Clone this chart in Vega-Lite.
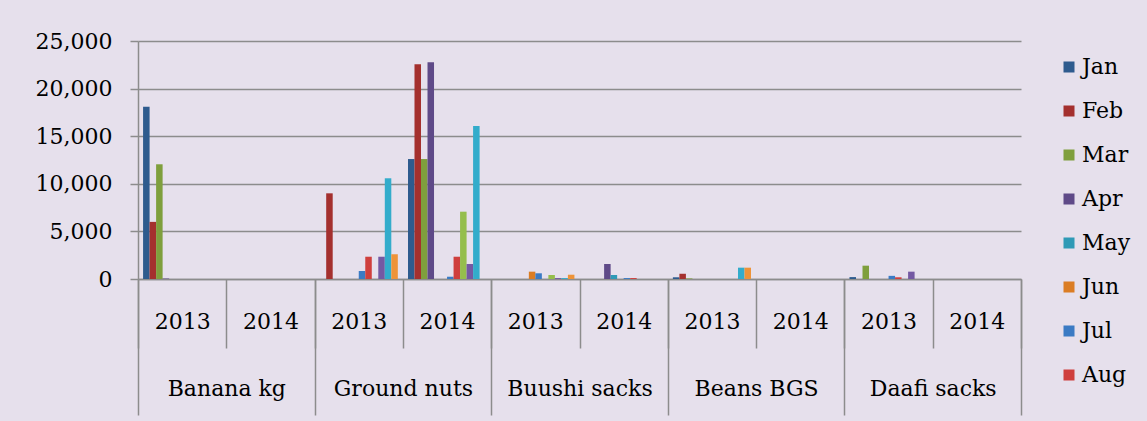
{
  "$schema": "https://vega.github.io/schema/vega-lite/v6.json",
  "width": 883,
  "height": 238,
  "autosize": {"type": "none"},
  "padding": {"left": 138, "top": 41, "right": 126, "bottom": 142},
  "background": "#E6E0EC",
  "config": {
    "view": {"stroke": null, "fill": "#E6E0EC"},
    "font": "DejaVu Serif",
    "axis": {"labelFont": "DejaVu Serif", "labelColor": "#000000", "labelFontSize": 22},
    "legend": {"labelFont": "DejaVu Serif"}
  },
  "layer": [
    {
      "data": {
        "values": [
          {"slot": "Banana kg|2013", "month": "Jan", "value": 18100},
          {"slot": "Banana kg|2013", "month": "Feb", "value": 6000},
          {"slot": "Banana kg|2013", "month": "Mar", "value": 12050},
          {"slot": "Banana kg|2013", "month": "Apr", "value": 50},
          {"slot": "Ground nuts|2013", "month": "Feb", "value": 9000},
          {"slot": "Ground nuts|2013", "month": "Jul", "value": 840},
          {"slot": "Ground nuts|2013", "month": "Aug", "value": 2340},
          {"slot": "Ground nuts|2013", "month": "Oct", "value": 2340},
          {"slot": "Ground nuts|2013", "month": "Nov", "value": 10580},
          {"slot": "Ground nuts|2013", "month": "Dec", "value": 2590},
          {"slot": "Ground nuts|2014", "month": "Jan", "value": 12600},
          {"slot": "Ground nuts|2014", "month": "Feb", "value": 22550},
          {"slot": "Ground nuts|2014", "month": "Mar", "value": 12600},
          {"slot": "Ground nuts|2014", "month": "Apr", "value": 22760},
          {"slot": "Ground nuts|2014", "month": "Jul", "value": 240},
          {"slot": "Ground nuts|2014", "month": "Aug", "value": 2340},
          {"slot": "Ground nuts|2014", "month": "Sep", "value": 7070},
          {"slot": "Ground nuts|2014", "month": "Oct", "value": 1575},
          {"slot": "Ground nuts|2014", "month": "Nov", "value": 16070},
          {"slot": "Buushi sacks|2013", "month": "Jun", "value": 770},
          {"slot": "Buushi sacks|2013", "month": "Jul", "value": 600},
          {"slot": "Buushi sacks|2013", "month": "Sep", "value": 420},
          {"slot": "Buushi sacks|2013", "month": "Oct", "value": 100},
          {"slot": "Buushi sacks|2013", "month": "Nov", "value": 100},
          {"slot": "Buushi sacks|2013", "month": "Dec", "value": 450},
          {"slot": "Buushi sacks|2014", "month": "Apr", "value": 1575},
          {"slot": "Buushi sacks|2014", "month": "May", "value": 420},
          {"slot": "Buushi sacks|2014", "month": "Jul", "value": 100},
          {"slot": "Buushi sacks|2014", "month": "Aug", "value": 100},
          {"slot": "Beans BGS|2013", "month": "Jan", "value": 180},
          {"slot": "Beans BGS|2013", "month": "Feb", "value": 550},
          {"slot": "Beans BGS|2013", "month": "Mar", "value": 60},
          {"slot": "Beans BGS|2013", "month": "Nov", "value": 1190},
          {"slot": "Beans BGS|2013", "month": "Dec", "value": 1190},
          {"slot": "Daafi sacks|2013", "month": "Jan", "value": 200},
          {"slot": "Daafi sacks|2013", "month": "Mar", "value": 1400},
          {"slot": "Daafi sacks|2013", "month": "Jul", "value": 330},
          {"slot": "Daafi sacks|2013", "month": "Aug", "value": 180},
          {"slot": "Daafi sacks|2013", "month": "Oct", "value": 770}
        ]
      },
      "mark": {"type": "bar"},
      "encoding": {
        "x": {
          "field": "slot",
          "type": "nominal",
          "scale": {
            "domain": ["Banana kg|2013", "Banana kg|2014", "Ground nuts|2013", "Ground nuts|2014", "Buushi sacks|2013", "Buushi sacks|2014", "Beans BGS|2013", "Beans BGS|2014", "Daafi sacks|2013", "Daafi sacks|2014"],
            "paddingInner": 0,
            "paddingOuter": 0
          },
          "axis": {
            "title": null,
            "orient": "bottom",
            "labelExpr": "split(datum.value, '|')[1]",
            "labelAngle": 0,
            "tickBand": "extent",
            "tickSize": 69,
            "tickColor": "#8C8C8C",
            "tickWidth": 1.5,
            "domainColor": "#8C8C8C",
            "domainWidth": 1.5,
            "labelPadding": -27,
            "labelBaseline": "middle",
            "grid": false
          }
        },
        "xOffset": {
          "field": "month",
          "type": "nominal",
          "scale": {
            "domain": ["Jan", "Feb", "Mar", "Apr", "May", "Jun", "Jul", "Aug", "Sep", "Oct", "Nov", "Dec"],
            "paddingInner": 0,
            "paddingOuter": 0.78
          }
        },
        "y": {
          "field": "value",
          "type": "quantitative",
          "scale": {"domain": [0, 25000]},
          "axis": {
            "title": null,
            "values": [0, 5000, 10000, 15000, 20000, 25000],
            "format": ",.0f",
            "tickSize": 8,
            "tickColor": "#8C8C8C",
            "tickWidth": 1.5,
            "labelPadding": 18,
            "domainColor": "#8C8C8C",
            "domainWidth": 1.5,
            "gridColor": "#8C8C8C",
            "gridWidth": 1.5
          }
        },
        "color": {
          "field": "month",
          "type": "nominal",
          "scale": {
            "domain": ["Jan", "Feb", "Mar", "Apr", "May", "Jun", "Jul", "Aug", "Sep", "Oct", "Nov", "Dec"],
            "range": ["#2E5B8E", "#A4302E", "#7F9F3D", "#5F4A88", "#2F9AB6", "#DB7D24", "#3B7BC4", "#CF3F3D", "#95BE4C", "#7459A3", "#33ACCB", "#EE9338"]
          },
          "legend": {
            "title": null,
            "orient": "none",
            "legendX": 920,
            "legendY": 15,
            "values": ["Jan", "Feb", "Mar", "Apr", "May", "Jun", "Jul", "Aug"],
            "symbolType": "square",
            "symbolSize": 121,
            "symbolStrokeWidth": 0,
            "labelFontSize": 22,
            "labelColor": "#000000",
            "labelOffset": 2,
            "rowPadding": 22
          }
        }
      }
    },
    {
      "data": {
        "values": [
          {"product": "Banana kg"},
          {"product": "Ground nuts"},
          {"product": "Buushi sacks"},
          {"product": "Beans BGS"},
          {"product": "Daafi sacks"}
        ]
      },
      "mark": {"type": "tick", "opacity": 0},
      "encoding": {
        "x": {
          "field": "product",
          "type": "nominal",
          "scale": {
            "domain": ["Banana kg", "Ground nuts", "Buushi sacks", "Beans BGS", "Daafi sacks"],
            "paddingInner": 0,
            "paddingOuter": 0
          },
          "axis": {
            "title": null,
            "orient": "bottom",
            "domain": false,
            "labelAngle": 0,
            "tickBand": "extent",
            "tickSize": 136,
            "tickColor": "#8C8C8C",
            "tickWidth": 1.5,
            "labelPadding": -27,
            "labelBaseline": "middle",
            "grid": false
          }
        }
      }
    }
  ],
  "resolve": {"scale": {"x": "independent"}, "axis": {"x": "independent"}}
}
